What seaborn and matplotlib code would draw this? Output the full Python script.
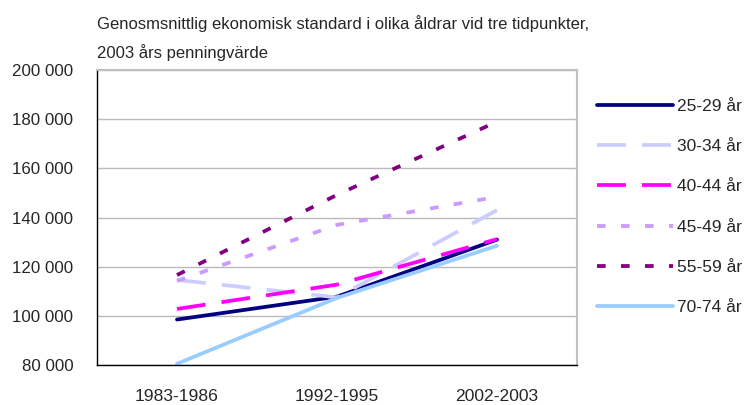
import matplotlib
matplotlib.use("Agg")
import matplotlib.pyplot as plt
import seaborn as sns
import pandas as pd

# data
periods = ["1983-1986", "1992-1995", "2002-2003"]
groups = ["25-29 år", "30-34 år", "40-44 år", "45-49 år", "55-59 år", "70-74 år"]
v_25_29 = [98500, 107800, 131000]
v_30_34 = [114600, 107500, 143000]
v_40_44 = [102800, 112700, 131200]
v_45_49 = [114200, 137000, 148400]
v_55_59 = [116600, 149200, 179000]
v_70_74 = [80500, 107300, 128500]
yticks = [80000, 100000, 120000, 140000, 160000, 180000, 200000]

values = [v_25_29, v_30_34, v_40_44, v_45_49, v_55_59, v_70_74]
rows = []
for g, vals in zip(groups, values):
    for p, v in zip(periods, vals):
        rows.append({"period": p, "group": g, "value": v})
df = pd.DataFrame(rows)

colors = ["#000080", "#CCCCFF", "#FF00FF", "#CC99FF", "#800080", "#99CCFF"]
dashes = {
    "25-29 år": "",
    "30-34 år": (7.7, 4.3),
    "40-44 år": (7.7, 4.3),
    "45-49 år": (2.3, 4.1),
    "55-59 år": (2.3, 4.1),
    "70-74 år": "",
}
LW = 2.7

sns.set_style("white")
plt.rcParams["font.family"] = ["Liberation Sans", "DejaVu Sans"]

fig = plt.figure(figsize=(7.5, 4.05), dpi=100)
ax = fig.add_axes([97 / 750, 1 - 365 / 405, 480 / 750, 295 / 405])

sns.lineplot(data=df, x="period", y="value", hue="group", style="group",
             hue_order=groups, style_order=groups, palette=colors,
             dashes=dashes, linewidth=LW, ax=ax, legend=True, sort=False)

# axes, grid and ticks
ax.set_xlim(-0.5, 2.5)
ax.set_ylim(80000, 200000)
ax.set_yticks(yticks)
ax.set_yticklabels([f"{t:,}".replace(",", " ") for t in yticks], fontsize=12.2)
ax.set_xticks([-0.5, 0.5, 1.5, 2.5])
ax.set_xticklabels([])
ax.set_xticks([0, 1, 2], minor=True)
ax.set_xticklabels(periods, minor=True, fontsize=12.6)
ax.tick_params(axis="x", which="major", length=8, width=1, color="black", direction="out")
ax.tick_params(axis="x", which="minor", length=0, pad=17)
ax.tick_params(axis="y", length=11, width=1, color="black", direction="out", pad=6)
ax.yaxis.grid(True, color="#BBBBBB", linewidth=1)
ax.set_xlabel("")
ax.set_ylabel("")
for side in ["top", "right"]:
    ax.spines[side].set_color("#C0C0C0")
    ax.spines[side].set_linewidth(1.5)
for side in ["left", "bottom"]:
    ax.spines[side].set_color("black")
    ax.spines[side].set_linewidth(1)

# legend outside to the right
handles, labels = ax.get_legend_handles_labels()
ax.legend_.remove()
leg = fig.legend(handles, labels, loc="upper left", bbox_to_anchor=(597 / 750, 1 - 99 / 405),
                 frameon=False, fontsize=12.5, handlelength=4.4, handletextpad=0.2,
                 labelspacing=1.44, borderpad=0, borderaxespad=0)
for line in leg.get_lines():
    line.set_linewidth(LW)

fig.text(97 / 750, 1 - 29 / 405, "Genosmsnittlig ekonomisk standard i olika åldrar vid tre tidpunkter,",
         fontsize=12, va="baseline", ha="left")
fig.text(97 / 750, 1 - 58 / 405, "2003 års penningvärde", fontsize=12, va="baseline", ha="left")

fig.savefig("out.png", dpi=100)
